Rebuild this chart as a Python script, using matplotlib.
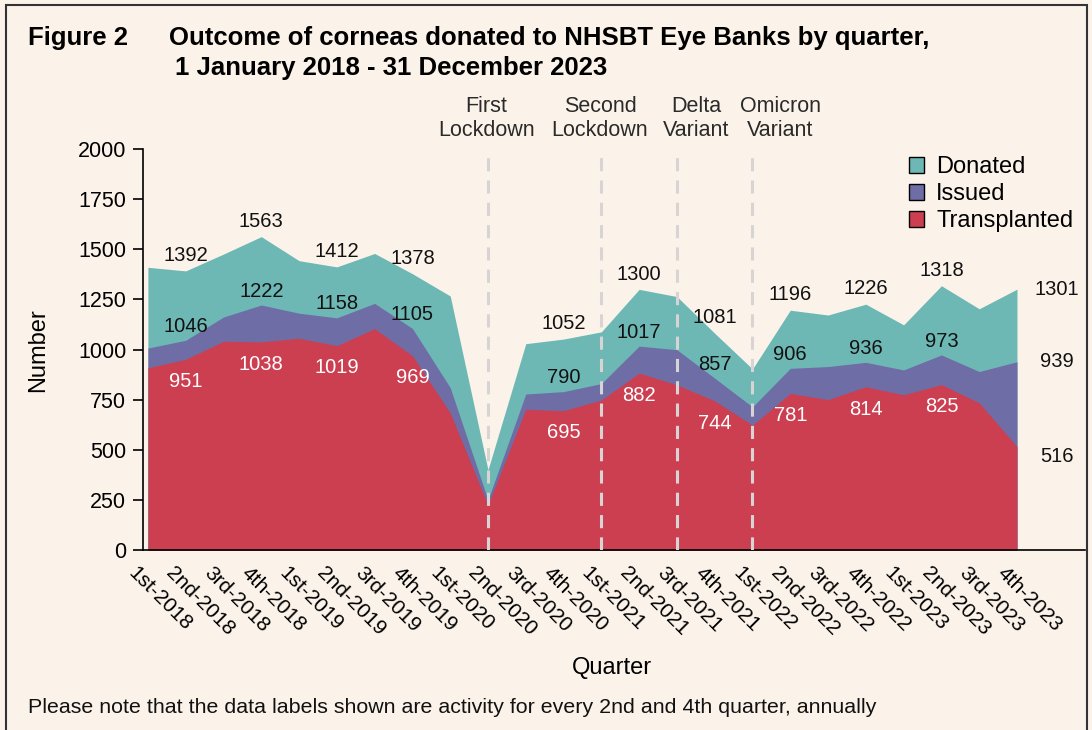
import matplotlib
matplotlib.use('Agg')
import matplotlib.pyplot as plt
import matplotlib.transforms as mtransforms
from matplotlib.patches import Patch, Rectangle

plt.rcParams['font.family'] = ['Liberation Sans', 'DejaVu Sans']

# Dane kwartalne
quarters = ['1st-2018', '2nd-2018', '3rd-2018', '4th-2018',
            '1st-2019', '2nd-2019', '3rd-2019', '4th-2019',
            '1st-2020', '2nd-2020', '3rd-2020', '4th-2020',
            '1st-2021', '2nd-2021', '3rd-2021', '4th-2021',
            '1st-2022', '2nd-2022', '3rd-2022', '4th-2022',
            '1st-2023', '2nd-2023', '3rd-2023', '4th-2023']
donated = [1410, 1392, 1476, 1563, 1443, 1412, 1479, 1378,
           1267, 400, 1029, 1052, 1088, 1300, 1264, 1081,
           903, 1196, 1172, 1226, 1123, 1318, 1203, 1301]
issued = [1007, 1046, 1162, 1222, 1181, 1158, 1230, 1105,
          810, 250, 778, 790, 830, 1017, 999, 857,
          714, 906, 915, 936, 898, 973, 890, 939]
transplanted = [909, 951, 1041, 1038, 1056, 1019, 1104, 969,
                684, 225, 702, 695, 748, 882, 824, 744,
                623, 781, 750, 814, 774, 825, 734, 516]
# indeksy kwartalow z etykietami (co 2. i 4. kwartal, bez 2nd-2020)
label_idx = [1, 3, 5, 7, 11, 13, 15, 17, 19, 21, 23]
event_idx = [9, 12, 14, 16]
event_txt = ['First\nLockdown', 'Second\nLockdown', 'Delta\nVariant', 'Omicron\nVariant']
event_dx = [-1, -1, 14, 20]  # przesuniecie podpisow (pkt)

bg = '#FBF3EA'
c_don = '#6DB8B5'
c_iss = '#6F6DA6'
c_tra = '#CB3F51'
fs_lab = 14.5

fig = plt.figure(figsize=(10.92, 7.3), dpi=100, facecolor=bg)
ax = fig.add_axes([143 / 1092, 1 - 550 / 730, (1085 - 143) / 1092, (550 - 149) / 730])
ax.set_facecolor(bg)

x = list(range(len(quarters)))
ax.fill_between(x, donated, color=c_don, lw=0, label='Donated')
ax.fill_between(x, issued, color=c_iss, lw=0, label='Issued')
ax.fill_between(x, transplanted, color=c_tra, lw=0, label='Transplanted')

for i, txt, dx in zip(event_idx, event_txt, event_dx):
    ax.axvline(i, color='#D8D4D4', lw=2.2, linestyle=(0, (4.3, 3)), zorder=3)
    ax.annotate(txt, xy=(i, 1), xycoords=('data', 'axes fraction'), xytext=(dx, 6),
                textcoords='offset points', ha='center', va='bottom', fontsize=15.5,
                color='#2a2a2a', linespacing=1.15)

# Etykiety danych
for i in label_idx:
    if i == len(quarters) - 1:
        ax.annotate(str(donated[i]), (i, donated[i]), xytext=(29, 0), textcoords='offset points',
                    ha='center', va='center', fontsize=fs_lab, color='#111111')
        ax.annotate(str(issued[i]), (i, issued[i]), xytext=(29, 0), textcoords='offset points',
                    ha='center', va='center', fontsize=fs_lab, color='#111111')
        ax.annotate(str(transplanted[i]), (i, transplanted[i]), xytext=(29, -7), textcoords='offset points',
                    ha='center', va='center', fontsize=fs_lab, color='#111111')
        continue
    ax.annotate(str(donated[i]), (i, donated[i]), xytext=(0, 11), textcoords='offset points',
                ha='center', va='center', fontsize=fs_lab, color='#111111')
    ax.annotate(str(issued[i]), (i, issued[i]), xytext=(0, 10), textcoords='offset points',
                ha='center', va='center', fontsize=fs_lab, color='#111111')
    ax.annotate(str(transplanted[i]), (i, transplanted[i]), xytext=(0, -16), textcoords='offset points',
                ha='center', va='center', fontsize=fs_lab, color='white')

ax.set_xlim(-0.13, 24.8)
ax.set_ylim(0, 2000)
ax.set_yticks(range(0, 2001, 250))
ax.set_xticks(x)
ax.set_xticklabels(quarters, rotation=-45, ha='left', va='top', rotation_mode='anchor')
ax.tick_params(axis='x', length=0, pad=0, labelsize=15)
ax.tick_params(axis='y', length=7, width=1.2, labelsize=15.5, pad=5)
offset = mtransforms.ScaledTranslation(-0.10, -0.13, fig.dpi_scale_trans)
for lab in ax.get_xticklabels():
    lab.set_transform(lab.get_transform() + offset)

for s in ['top', 'right']:
    ax.spines[s].set_visible(False)
ax.spines['left'].set_linewidth(1.2)
ax.spines['bottom'].set_linewidth(1.2)

fig.text(38 / 1092, 1 - 350 / 730, 'Number', fontsize=17, rotation=90, ha='center', va='center')
fig.text(612 / 1092, 1 - 668 / 730, 'Quarter', fontsize=17, ha='center', va='center')

handles = [Patch(facecolor=c_don, edgecolor='black', lw=1),
           Patch(facecolor=c_iss, edgecolor='black', lw=1),
           Patch(facecolor=c_tra, edgecolor='black', lw=1)]
ax.legend(handles, ['Donated', 'Issued', 'Transplanted'], loc='upper left',
          bbox_to_anchor=(909 / 1092, 1 - 156 / 730), bbox_transform=fig.transFigure,
          frameon=False, fontsize=17, handlelength=0.65, handleheight=0.65,
          handletextpad=0.5, labelspacing=0.22, borderpad=0, borderaxespad=0)

fig.text(28 / 1092, 1 - 45 / 730, 'Figure 2', fontsize=18.5, fontweight='bold', va='baseline')
fig.text(169 / 1092, 1 - 45 / 730, 'Outcome of corneas donated to NHSBT Eye Banks by quarter,',
         fontsize=18.5, fontweight='bold', va='baseline')
fig.text(175 / 1092, 1 - 75 / 730, '1 January 2018 - 31 December 2023',
         fontsize=18.5, fontweight='bold', va='baseline')
fig.text(28 / 1092, 1 - 713 / 730,
         'Please note that the data labels shown are activity for every 2nd and 4th quarter, annually',
         fontsize=15.4, va='baseline', color='#111111')

fig.patches.append(Rectangle((6 / 1092, -0.02), (1087 - 6) / 1092, 1.02 - 5 / 730,
                             transform=fig.transFigure, fill=False, edgecolor='#333333', lw=1.5))

fig.savefig('out.png', dpi=100, facecolor=bg)
